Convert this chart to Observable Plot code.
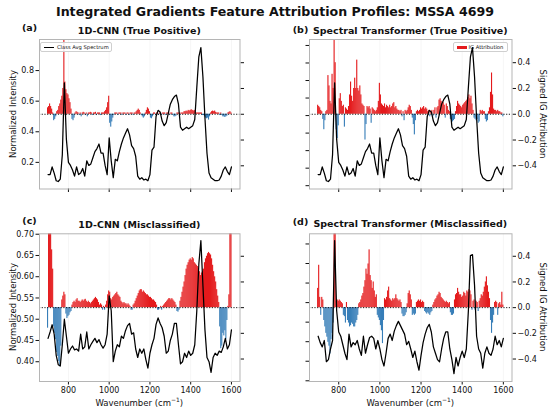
<!DOCTYPE html>
<html><head><meta charset="utf-8">
<script src="https://cdn.jsdelivr.net/npm/d3@7"></script>
<script src="https://cdn.jsdelivr.net/npm/@observablehq/plot@0.6"></script>
<style>
body{margin:0;background:#fff;font-family:"DejaVu Sans",sans-serif;}
#fig{position:relative;width:550px;height:410px;overflow:hidden;background:#fff;}
.t{position:absolute;white-space:nowrap;color:#111;line-height:1;}
.leg{position:absolute;background:rgba(255,255,255,0.85);border:0.7px solid #cfcfcf;border-radius:2px;box-sizing:border-box;}
</style></head><body><div id="fig"></div><script>
// ---------- data ----------
const RED = "#e41a1c", BLUE = "#377eb8";
const xTicks = [800, 1000, 1200, 1400, 1600];
const leftTicksTop = [0.2, 0.4, 0.6, 0.8];
const leftTicksBottom = [0.40, 0.45, 0.50, 0.55, 0.60, 0.65, 0.70];
const rightTicks = [-0.4, -0.2, 0, 0.2, 0.4];
const hiddenTicksB = [0.1, 0.2, 0.3, 0.4, 0.5, 0.6, 0.7, 0.8, 0.9];
const hiddenTicksD = [0.30, 0.35, 0.40, 0.45, 0.50, 0.55, 0.60, 0.65];

const waveBar = d3.range(700, 1601, 5);
const waveSpec = d3.range(700, 1601, 10);

const attrA = [
0.05,0.06,0.08,0.06,0.04,0.01,-0.05,-0.04,-0.02,0.02,
0.03,0.06,0.08,0.11,0.14,0.2,0.6,0.25,0.19,0.16,
0.15,0.12,0.09,0.04,-0.04,-0.05,-0.03,0.01,0.02,0.015,
0.01,-0.01,0.01,-0.02,0.01,0.015,0.01,-0.01,0.01,-0.02,
0.01,0.01,0.015,0.01,-0.01,0.01,0.01,0.015,-0.01,0.01,
0.01,0.01,-0.01,0.01,0.01,0.01,0.02,0.03,0.05,0.09,
0.14,-0.07,-0.1,-0.06,-0.03,-0.01,0.01,0.01,0.01,-0.01,
0.01,0.01,0.01,-0.01,0.01,0.01,0.01,-0.01,0.01,0.01,
-0.01,0.01,0.01,0.01,-0.01,0.01,0.01,0.02,0.03,0.04,
0.03,0.01,-0.01,-0.02,-0.03,-0.02,0.01,0.03,0.05,0.04,
0.02,-0.03,-0.035,-0.02,0.01,0.01,-0.01,0.01,0.01,-0.01,
0.01,0.01,-0.01,0.01,0.01,0.01,-0.01,0.01,0.01,0.01,
-0.01,0.01,0.01,-0.01,-0.02,-0.02,-0.015,0.01,0.01,0.01,
-0.01,0.01,0.01,0.01,0.02,0.02,0.025,0.02,0.03,0.025,
0.03,0.035,0.03,0.025,0.03,0.02,0.01,0.01,0.01,0.01,
0.01,0.01,-0.01,-0.01,-0.02,-0.03,-0.035,-0.03,-0.045,-0.02,
0.01,0.02,0.025,0.02,0.025,0.015,0.01,0.01,0.01,-0.01,
0.01,-0.01,-0.02,-0.02,-0.025,-0.02,-0.015,0.01,0.015,0.02,
0.01];
const attrB = [
0.07,0.06,0.05,0.03,0.02,-0.04,-0.12,-0.05,0.02,0.03,
0.3,0.22,0.1,0.08,0.31,0.2,0.6,0.4,-0.12,-0.19,
-0.09,0.12,0.16,0.1,0.06,0.07,-0.1,0.05,0.04,0.03,
0.06,0.15,0.25,0.14,0.1,0.2,0.28,0.2,0.42,0.2,
0.18,0.22,0.15,0.08,0.07,0.06,-0.2,-0.08,0.06,0.05,
0.06,0.04,-0.07,0.05,0.04,0.03,0.02,0.03,0.05,0.1,
0.24,0.15,0.08,0.07,0.06,0.08,0.05,0.07,0.06,0.05,
0.07,0.05,0.06,0.08,0.09,0.05,0.06,0.04,0.03,0.03,
0.02,0.03,-0.02,0.02,-0.05,0.03,0.02,0.03,0.05,0.07,
0.06,0.03,-0.03,-0.08,-0.16,-0.05,0.02,0.03,0.02,0.03,
0.05,0.04,0.05,0.06,0.04,0.05,0.04,0.02,0.03,-0.02,
0.02,0.03,-0.02,0.03,0.05,-0.03,0.05,0.06,0.11,0.12,
0.1,0.08,0.09,0.07,-0.03,0.08,0.06,0.03,0.02,-0.04,
-0.05,-0.06,-0.05,-0.04,0.02,0.06,0.1,0.08,0.07,0.06,
0.05,0.07,0.08,0.09,0.1,0.11,0.13,0.15,0.12,0.14,
0.08,0.03,-0.03,-0.04,-0.05,-0.04,-0.07,-0.06,0.03,0.02,
0.03,0.02,0.02,-0.04,-0.06,-0.05,0.02,0.05,0.17,0.32,
0.15,0.04,0.03,0.03,0.02,0.03,0.02,0.02,0.01,0.01,
-0.02];
const attrC = [
-0.16,0.6,0.6,0.6,0.45,0.3,-0.15,-0.2,-0.25,-0.35,
-0.38,-0.42,-0.46,-0.3,0.06,0.09,0.12,0.1,-0.05,-0.085,
-0.07,-0.06,-0.04,-0.03,0.02,0.04,0.05,0.04,0.06,0.07,
0.05,0.05,0.04,0.05,0.06,0.05,0.06,0.065,0.05,0.04,
0.05,0.04,0.03,0.04,0.05,0.06,0.07,0.08,0.07,0.06,
0.04,0.02,0.03,0.02,-0.02,0.01,-0.02,0.02,0.05,0.1,
0.13,0.12,0.07,0.06,0.08,0.09,0.1,0.11,0.12,0.1,
0.09,0.08,0.05,0.04,0.03,0.04,0.03,0.03,0.02,0.03,
0.02,0.01,-0.02,-0.02,0.02,0.03,0.05,0.07,0.09,0.11,
0.13,0.14,0.14,0.12,0.13,0.12,0.11,0.1,0.1,0.09,
0.08,0.08,0.07,0.06,0.06,0.05,0.04,0.02,-0.02,-0.02,
-0.01,0.01,-0.02,0.01,0.02,0.03,0.04,0.05,0.06,0.07,
0.07,0.06,0.07,0.06,0.05,0.04,0.02,-0.03,-0.035,-0.02,
0.05,0.08,0.12,0.16,0.2,0.25,0.3,0.33,0.35,0.37,
0.38,0.37,0.39,0.38,0.35,0.34,0.33,0.32,0.3,0.28,
0.25,0.27,0.28,0.3,0.35,0.38,0.4,0.42,0.43,0.42,
0.41,0.38,0.33,0.28,0.24,0.2,0.14,0.09,0.04,-0.15,
-0.32,-0.3,-0.2,-0.22,-0.18,-0.25,-0.1,0.01,0.1,0.6,
0.6];
const attrD = [
0.15,0.33,0.08,-0.06,0.08,0.06,-0.1,-0.15,-0.2,-0.23,
-0.27,-0.3,-0.36,-0.25,-0.2,-0.12,0.6,0.6,0.05,0.06,
0.05,0.06,0.05,0.04,0.03,-0.06,-0.07,-0.12,0.04,-0.1,
-0.12,-0.15,-0.14,-0.12,-0.13,-0.15,-0.15,-0.12,-0.1,-0.06,
0.03,0.04,0.06,0.09,0.11,0.16,0.21,0.3,0.26,0.34,
0.45,0.25,0.21,0.15,0.2,0.13,0.08,0.1,-0.06,-0.08,
-0.1,-0.14,-0.18,-0.28,-0.1,0.07,0.06,0.08,0.13,0.16,
0.07,0.06,0.05,0.07,0.06,0.07,0.1,0.07,0.06,0.05,
0.06,0.04,-0.05,-0.07,-0.07,-0.06,-0.04,0.03,0.11,0.13,
0.1,0.06,-0.06,-0.05,-0.06,-0.05,0.04,0.05,0.06,0.05,
0.06,0.04,0.05,0.04,-0.03,-0.04,-0.05,-0.04,-0.05,-0.06,
-0.04,-0.03,0.02,0.04,0.06,0.07,0.09,0.1,0.12,0.11,
0.08,0.07,0.06,0.05,0.04,0.05,0.04,0.03,0.04,-0.04,
-0.06,-0.06,-0.05,0.06,0.1,0.11,0.15,0.12,0.1,0.1,
0.08,0.09,0.12,0.11,0.09,0.13,0.12,0.14,0.13,0.1,
-0.02,0.05,0.06,-0.02,0.05,0.04,-0.03,0.05,0.07,0.1,
0.09,0.12,0.16,0.2,0.24,0.17,0.12,0.07,-0.1,-0.2,
-0.12,-0.06,0.04,0.05,0.04,-0.06,0.03,0.04,0.02,0.12,
0.02];

const specA = [
0.12,0.12,0.17,0.13,0.08,0.075,0.09,0.25,0.72,0.35,
0.20,0.18,0.15,0.11,0.17,0.12,0.13,0.16,0.11,0.21,
0.18,0.19,0.23,0.27,0.29,0.32,0.26,0.26,0.18,0.12,
0.36,0.21,0.10,0.22,0.21,0.27,0.32,0.36,0.39,0.42,
0.38,0.31,0.29,0.24,0.11,0.09,0.10,0.085,0.09,0.08,
0.12,0.28,0.30,0.50,0.54,0.53,0.47,0.44,0.46,0.52,
0.58,0.61,0.63,0.64,0.58,0.43,0.41,0.42,0.43,0.42,
0.43,0.44,0.48,0.69,0.89,0.95,0.76,0.49,0.26,0.13,
0.10,0.09,0.08,0.08,0.085,0.11,0.15,0.17,0.14,0.12,
0.17];
const specC = [
0.455,0.47,0.487,0.465,0.415,0.393,0.39,0.44,0.50,0.46,
0.42,0.43,0.437,0.428,0.43,0.425,0.465,0.43,0.435,0.47,
0.43,0.44,0.448,0.455,0.445,0.452,0.44,0.432,0.44,0.465,
0.555,0.52,0.40,0.425,0.44,0.435,0.46,0.455,0.473,0.485,
0.49,0.465,0.468,0.43,0.41,0.43,0.42,0.43,0.405,0.385,
0.42,0.44,0.455,0.488,0.503,0.49,0.48,0.46,0.42,0.425,
0.45,0.465,0.49,0.49,0.44,0.395,0.40,0.42,0.41,0.425,
0.415,0.42,0.44,0.52,0.63,0.685,0.58,0.475,0.41,0.40,
0.375,0.41,0.42,0.415,0.425,0.422,0.435,0.455,0.43,0.44,
0.475];
const specD = [
0.46,0.445,0.435,0.45,0.40,0.405,0.43,0.45,0.685,0.52,
0.47,0.46,0.44,0.42,0.405,0.465,0.435,0.445,0.44,0.45,
0.43,0.415,0.46,0.42,0.44,0.457,0.46,0.455,0.43,0.45,
0.43,0.405,0.39,0.42,0.455,0.465,0.45,0.472,0.485,0.495,
0.485,0.475,0.465,0.44,0.448,0.43,0.41,0.425,0.40,0.38,
0.415,0.445,0.465,0.48,0.488,0.47,0.435,0.42,0.405,0.40,
0.43,0.455,0.47,0.47,0.43,0.405,0.372,0.41,0.39,0.41,
0.425,0.41,0.43,0.52,0.65,0.652,0.58,0.46,0.43,0.42,
0.385,0.42,0.435,0.42,0.415,0.43,0.46,0.44,0.45,0.435,
0.455];

// ---------- drawing ----------
const fig = document.getElementById("fig");
const FONT = "DejaVu Sans, sans-serif";
const XD = [658, 1642];
const blank = () => "";
const signed = d => d === 0 ? "0.0" : (d < 0 ? "\u2212" : "") + Math.abs(d).toFixed(1);

function layer(opts) {
  const svg = Plot.plot(Object.assign({
    width: 550, height: 410,
    style: {background: "transparent", overflow: "visible", fontFamily: FONT, fontSize: "8px", color: "#111"}
  }, opts));
  svg.style.position = "absolute"; svg.style.left = "0px"; svg.style.top = "0px";
  fig.appendChild(svg);
  return svg;
}
function txt(s, x, y, o = {}) {
  const d = document.createElement("div");
  d.className = "t";
  d.style.left = x + "px"; d.style.top = y + "px";
  d.style.fontSize = (o.size || 8.5) + "px";
  d.style.fontWeight = o.bold ? "bold" : "normal";
  d.style.transform = `translate(-50%,-50%) rotate(${o.rot || 0}deg)`;
  if (o.html) d.innerHTML = s; else d.textContent = s;
  fig.appendChild(d);
  return d;
}

const panels = [
  {box: [39, 239.5, 39, 188.5], attr: attrA, spec: specA, yL: [0.026, 1.003], yR: [-0.58, 0.58],
   lt: leftTicksTop, lf: d => d.toFixed(1), right: false, xlab: false},
  {box: [309, 511.5, 39, 188.5], attr: attrB, spec: specA, yL: [0.026, 1.003], yR: [-0.58, 0.58],
   extra: {domain: [0.0811, 0.934], ticks: hiddenTicksB}, right: true, xlab: false, legendB: true},
  {box: [39, 239.5, 233.3, 381], attr: attrC, spec: specC, yL: [0.3535, 0.701], yR: [-0.575, 0.575],
   lt: leftTicksBottom, lf: d => d.toFixed(2), right: false, xlab: true},
  {box: [309, 511.5, 233.3, 381], attr: attrD, spec: specD, yL: [0.3535, 0.701], yR: [-0.575, 0.575],
   extra: {domain: [0.2982, 0.676], ticks: hiddenTicksD}, right: true, xlab: true}
];

for (const p of panels) {
  const [l, r, t, b] = p.box;
  const m = {marginLeft: l, marginRight: 550 - r, marginTop: t, marginBottom: 410 - b};
  const bars = waveBar.map((w, i) => ({w, v: p.attr[i]}));
  const spec = waveSpec.map((w, i) => ({w, v: p.spec[i]}));
  // attribution bars (right axis)
  layer(Object.assign({}, m, {
    x: {domain: XD, ticks: xTicks, tickFormat: p.xlab ? d => String(d) : blank, tickSize: 3.5, tickPadding: 2, label: null},
    y: {domain: p.yR, clamp: true, axis: "right", ticks: rightTicks, tickFormat: p.right ? signed : blank, tickSize: 3.5, tickPadding: 2, label: null},
    marks: [
      Plot.ruleX(xTicks, {stroke: "#000", strokeOpacity: 0.05, strokeWidth: 0.8}),
      Plot.rectY(bars, {filter: d => d.v > 0, x1: d => d.w - 2.7, x2: d => d.w + 2.7, y: "v", fill: RED}),
      Plot.rectY(bars, {filter: d => d.v < 0, x1: d => d.w - 2.7, x2: d => d.w + 2.7, y: "v", fill: BLUE}),
      Plot.ruleY([0], {stroke: "#000", strokeWidth: 0.9, strokeDasharray: "1.2,1.5"})
    ]
  }));
  if (p.legendB) {
    const lg = document.createElement("div");
    lg.className = "leg";
    Object.assign(lg.style, {left: "453px", top: "42px", width: "55px", height: "9.5px"});
    lg.innerHTML = `<div style="position:absolute;left:3px;top:2.6px;width:10px;height:3.6px;background:${RED}"></div>` +
      `<div style="position:absolute;left:14.5px;top:1.6px;font-size:5.2px;line-height:1;white-space:nowrap;color:#111">IG Attribution</div>`;
    fig.appendChild(lg);
  }
  // spectrum line (left axis)
  layer(Object.assign({}, m, {
    x: {domain: XD, axis: null},
    y: p.lt ? {domain: p.yL, axis: "left", ticks: p.lt, tickFormat: p.lf, tickSize: 3.5, tickPadding: 2, label: null}
            : {domain: p.yL, axis: null},
    marks: [
      Plot.line(spec, {x: "w", y: "v", stroke: "#000", strokeWidth: 1.25}),
      Plot.frame({stroke: "#b5b5b5", strokeWidth: 1})
    ]
  }));
  if (p.extra) {
    layer(Object.assign({}, m, {
      x: {domain: XD, axis: null},
      y: {domain: p.extra.domain, axis: "left", ticks: p.extra.ticks, tickFormat: blank, tickSize: 3.5, tickPadding: 2, label: null},
      marks: [Plot.ruleY(p.extra.domain, {stroke: "none"})]
    }));
  }
}

// legend (a)
{
  const lg = document.createElement("div");
  lg.className = "leg";
  Object.assign(lg.style, {left: "40px", top: "42px", width: "72px", height: "9.5px"});
  lg.innerHTML = `<div style="position:absolute;left:3px;top:3.9px;width:10px;height:1.2px;background:#000"></div>` +
    `<div style="position:absolute;left:16px;top:1.6px;font-size:5.2px;line-height:1;white-space:nowrap;color:#111">Class Avg Spectrum</div>`;
  fig.appendChild(lg);
}

// texts
txt("Integrated Gradients Feature Attribution Profiles: MSSA 4699", 275, 11.5, {size: 12.6, bold: true});
txt("1D-CNN (True Positive)", 139.3, 30.7, {size: 9.5, bold: true});
txt("Spectral Transformer (True Positive)", 410.3, 30.7, {size: 9.5, bold: true});
txt("1D-CNN (Misclassified)", 139.3, 224.5, {size: 9.5, bold: true});
txt("Spectral Transformer (Misclassified)", 410.3, 224.3, {size: 9.5, bold: true});
txt("(a)", 29.5, 27.5, {size: 9.5, bold: true});
txt("(b)", 300.5, 29.5, {size: 9.5, bold: true});
txt("(c)", 29.5, 220.5, {size: 9.5, bold: true});
txt("(d)", 300.5, 222, {size: 9.5, bold: true});
txt("Normalized Intensity", 13, 113.7, {size: 8.5, rot: -90});
txt("Normalized Intensity", 13, 307, {size: 8.5, rot: -90});
txt("Signed IG Attribution", 542.5, 113.7, {size: 8.5, rot: 90});
txt("Signed IG Attribution", 542.5, 307, {size: 8.5, rot: 90});
txt("Wavenumber (cm<sup style='font-size:6px'>\u22121</sup>)", 139.3, 402, {size: 8.5, html: true});
txt("Wavenumber (cm<sup style='font-size:6px'>\u22121</sup>)", 410.3, 402, {size: 8.5, html: true});
</script></body></html>
